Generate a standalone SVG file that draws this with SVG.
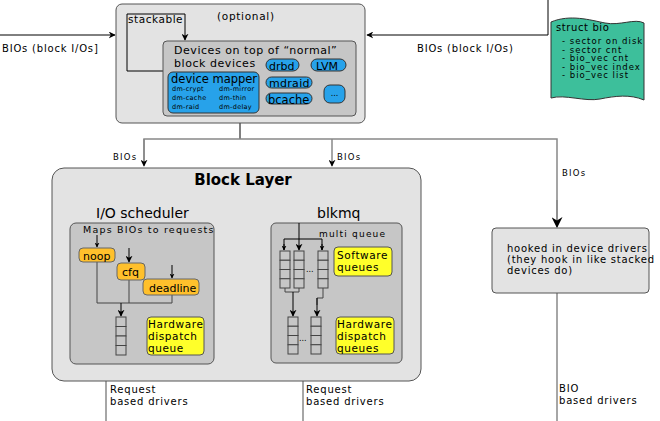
<svg xmlns="http://www.w3.org/2000/svg" width="660" height="421" viewBox="0 0 660 421">
<defs>
<style>
text{font-family:"DejaVu Sans","Liberation Sans",sans-serif;fill:#000}
.outer{fill:#e3e3e3;stroke:#555;stroke-width:1}
.inner{fill:#c6c6c6;stroke:#555;stroke-width:1}
.blue{fill:#27a2ea;stroke:#333;stroke-width:1}
.orange{fill:#ffc02c;stroke:#666;stroke-width:1}
.yellow{fill:#ffff2a;stroke:#555;stroke-width:1}
.q{fill:#c6c6c6;stroke:#444;stroke-width:1}
.ln{fill:none;stroke:#000;stroke-width:1}
.gl{fill:none;stroke:#888;stroke-width:1.5}
.dl{fill:none;stroke:#444;stroke-width:1}
.lbl{font-size:10px;letter-spacing:0.8px}
.bios{font-size:8.5px;letter-spacing:1.2px}
.yt{font-size:10.5px;letter-spacing:0.6px}
</style>
<marker id="ah" viewBox="0 0 10 10" refX="9" refY="5" markerWidth="7" markerHeight="7" orient="auto-start-reverse" markerUnits="userSpaceOnUse">
<path d="M0,0 L10,5 L0,10 L3,5 Z" fill="#000"/>
</marker>
<marker id="ahs" viewBox="0 0 10 10" refX="9" refY="5" markerWidth="5" markerHeight="5" orient="auto" markerUnits="userSpaceOnUse">
<path d="M0,0 L10,5 L0,10 L3,5 Z" fill="#000"/>
</marker>
<marker id="ahb" viewBox="0 0 10 10" refX="9" refY="5" markerWidth="11" markerHeight="11" orient="auto" markerUnits="userSpaceOnUse">
<path d="M0,0 L10,5 L0,10 L3,5 Z" fill="#000"/>
</marker>
</defs>

<g id="connectors">
<line class="ln" x1="0" y1="35" x2="115" y2="35" marker-end="url(#ah)"/>
<polyline class="ln" points="548,0 548,35 367,35" marker-end="url(#ah)"/>
<line class="ln" x1="240" y1="123" x2="240" y2="139"/>
<polyline class="gl" points="144,164 144,139 557,139 557,226"/>
<line class="gl" x1="144" y1="139" x2="144" y2="166" marker-end="url(#ah)"/>
<line class="gl" x1="332" y1="139" x2="332" y2="166" marker-end="url(#ah)"/>
<line class="gl" x1="557" y1="200" x2="557" y2="227" marker-end="url(#ahb)"/>
<line class="gl" x1="106" y1="364" x2="106" y2="421"/>
<line class="gl" x1="303" y1="363" x2="303" y2="421"/>
<line class="gl" x1="557" y1="293" x2="557" y2="421"/>
</g>

<g id="top-box">
<rect class="outer" x="116" y="4" width="249" height="119" rx="6"/>
<polyline class="ln" points="163,71 127,71 127,14 185,14 185,40" marker-end="url(#ah)"/>
<text x="128" y="23" font-size="10.5" letter-spacing="0.55">stackable</text>
<text x="217" y="20" font-size="10.5" letter-spacing="0.7">(optional)</text>
<g id="normal-devices">
<rect class="inner" x="163" y="41" width="193" height="75" rx="4"/>
<text x="174" y="54" font-size="11" letter-spacing="0.55">Devices on top of “normal”</text>
<text x="174" y="67" font-size="11" letter-spacing="0.55">block devices</text>
</g>
<g id="device-mapper">
<rect class="blue" x="168" y="72" width="91" height="41" rx="5"/>
<text x="171" y="83" font-size="11.5">device mapper</text>
<text x="172" y="91" font-size="6.5" letter-spacing="0.3">dm-crypt</text>
<text x="219" y="91" font-size="6.5" letter-spacing="0.3">dm-mirror</text>
<text x="172" y="100" font-size="6.5" letter-spacing="0.3">dm-cache</text>
<text x="219" y="100" font-size="6.5" letter-spacing="0.3">dm-thin</text>
<text x="172" y="109" font-size="6.5" letter-spacing="0.3">dm-raid</text>
<text x="219" y="109" font-size="6.5" letter-spacing="0.3">dm-delay</text>
</g>
<g id="drbd"><rect class="blue" x="266" y="59" width="33" height="12" rx="6"/><text x="269" y="69.5" font-size="11">drbd</text></g>
<g id="lvm"><rect class="blue" x="311" y="59" width="35" height="12" rx="6"/><text x="316" y="69.5" font-size="11">LVM</text></g>
<g id="mdraid"><rect class="blue" x="266" y="77" width="46" height="11" rx="5.5"/><text x="269" y="87" font-size="11" letter-spacing="0.3">mdraid</text></g>
<g id="bcache"><rect class="blue" x="266" y="93" width="46" height="11" rx="5.5"/><text x="268" y="103.5" font-size="11.5">bcache</text></g>
<g id="more"><rect class="blue" x="324" y="85" width="21" height="18" rx="6"/><text x="334.5" y="96" font-size="8" text-anchor="middle">...</text></g>
</g>

<g id="labels">
<text x="2" y="52" class="lbl">BIOs (block I/Os]</text>
<text x="417" y="52" class="lbl">BIOs (block I/Os)</text>
<text x="113" y="160" class="bios">BIOs</text>
<text x="337" y="160" class="bios">BIOs</text>
<text x="562" y="176" class="bios">BIOs</text>
<text x="110" y="393" class="lbl">Request</text>
<text x="110" y="405" class="lbl">based drivers</text>
<text x="306" y="393" class="lbl">Request</text>
<text x="306" y="405" class="lbl">based drivers</text>
<text x="559" y="392" class="lbl">BIO</text>
<text x="559" y="404" class="lbl">based drivers</text>
</g>

<g id="struct-bio">
<path d="M551,22 C570,14 590,20 605,23 C620,26 635,18 644,23 L644,100 C630,94 615,96 600,99 C585,102 565,94 551,98 Z" fill="#3dbf9b" stroke="#333" stroke-width="1"/>
<text x="556" y="31" font-size="10" letter-spacing="0.6">struct bio</text>
<text x="562" y="44" font-size="8.5" letter-spacing="1">- sector on disk</text>
<text x="562" y="52.5" font-size="8.5" letter-spacing="1">- sector cnt</text>
<text x="562" y="61" font-size="8.5" letter-spacing="1">- bio_vec cnt</text>
<text x="562" y="69.5" font-size="8.5" letter-spacing="1">- bio_vec index</text>
<text x="562" y="78" font-size="8.5" letter-spacing="1">- bio_vec list</text>
</g>

<g id="block-layer">
<rect class="outer" x="52" y="168" width="369" height="213" rx="12"/>
<text x="243" y="185" font-size="15" font-weight="bold" text-anchor="middle">Block Layer</text>
<text x="96" y="218" font-size="14">I/O scheduler</text>
<text x="317" y="218" font-size="14">blkmq</text>
</g>

<g id="io-scheduler">
<rect class="inner" x="70" y="223" width="144" height="141" rx="6"/>
<text x="83" y="233" font-size="9.5" letter-spacing="1.2">Maps BIOs to requests</text>
<line class="ln" x1="97" y1="235" x2="97" y2="247" marker-end="url(#ahs)"/>
<line class="ln" x1="129" y1="248" x2="129" y2="262" marker-end="url(#ah)"/>
<line class="ln" x1="172" y1="265" x2="172" y2="278" marker-end="url(#ahs)"/>
<polyline class="dl" points="97,262 97,303 172,303 172,295"/>
<line class="dl" x1="129" y1="280" x2="129" y2="303"/>
<line class="ln" x1="121" y1="303" x2="121" y2="316" marker-end="url(#ah)"/>
<g id="noop"><rect class="orange" x="79" y="248" width="36" height="14" rx="4"/><text x="83" y="259.5" font-size="11">noop</text></g>
<g id="cfq"><rect class="orange" x="117" y="263" width="28" height="17" rx="4"/><text x="122" y="275.5" font-size="11">cfq</text></g>
<g id="deadline"><rect class="orange" x="143" y="279" width="56" height="16" rx="4"/><text x="149" y="291.5" font-size="11">deadline</text></g>
<rect class="q" x="116" y="317" width="10" height="9.5"/>
<rect class="q" x="116" y="326.5" width="10" height="9.5"/>
<rect class="q" x="116" y="336" width="10" height="9.5"/>
<rect class="q" x="116" y="345.5" width="10" height="9.5"/>
<g id="hw-dispatch"><rect class="yellow" x="147" y="317" width="57" height="38" rx="4"/>
<text x="148" y="328" class="yt">Hardware</text>
<text x="148" y="340" class="yt">dispatch</text>
<text x="148" y="352" class="yt">queue</text></g>
</g>

<g id="blkmq">
<rect class="inner" x="271" y="223" width="131" height="140" rx="5"/>
<text x="319" y="237" font-size="9" letter-spacing="1.2">multi queue</text>
<line class="ln" x1="299" y1="223" x2="299" y2="250" marker-end="url(#ah)"/>
<polyline class="ln" points="284,250 284,239 322,239 322,250"/>
<line class="ln" x1="284" y1="244" x2="284" y2="250" marker-end="url(#ahs)"/>
<line class="ln" x1="322" y1="244" x2="322" y2="250" marker-end="url(#ahs)"/>
<g class="sw">
<rect class="q" x="280" y="251" width="10" height="9.25"/><rect class="q" x="280" y="260.25" width="10" height="9.25"/><rect class="q" x="280" y="269.5" width="10" height="9.25"/><rect class="q" x="280" y="278.75" width="10" height="9.25"/>
<rect class="q" x="294" y="251" width="10" height="9.25"/><rect class="q" x="294" y="260.25" width="10" height="9.25"/><rect class="q" x="294" y="269.5" width="10" height="9.25"/><rect class="q" x="294" y="278.75" width="10" height="9.25"/>
<rect class="q" x="318" y="251" width="10" height="9.25"/><rect class="q" x="318" y="260.25" width="10" height="9.25"/><rect class="q" x="318" y="269.5" width="10" height="9.25"/><rect class="q" x="318" y="278.75" width="10" height="9.25"/>
</g>
<text x="306" y="272" font-size="8">...</text>
<polyline class="dl" points="285,288 285,292 299,292 299,288"/>
<line class="ln" x1="293" y1="292" x2="293" y2="316" marker-end="url(#ah)"/>
<polyline class="dl" points="323,288 323,298 317,298 317,305"/>
<line class="ln" x1="317" y1="298" x2="317" y2="316" marker-end="url(#ah)"/>
<g class="hw">
<rect class="q" x="288" y="317" width="10" height="9.25"/><rect class="q" x="288" y="326.25" width="10" height="9.25"/><rect class="q" x="288" y="335.5" width="10" height="9.25"/><rect class="q" x="288" y="344.75" width="10" height="9.25"/>
<rect class="q" x="311" y="317" width="10" height="9.25"/><rect class="q" x="311" y="326.25" width="10" height="9.25"/><rect class="q" x="311" y="335.5" width="10" height="9.25"/><rect class="q" x="311" y="344.75" width="10" height="9.25"/>
</g>
<text x="299" y="341" font-size="8">...</text>
<g id="sw-queues"><rect class="yellow" x="334" y="247" width="58" height="29" rx="4"/>
<text x="337" y="259" class="yt">Software</text>
<text x="337" y="271" class="yt">queues</text></g>
<g id="hw-queues"><rect class="yellow" x="336" y="317" width="58" height="37" rx="4"/>
<text x="337" y="328" class="yt">Hardware</text>
<text x="337" y="340" class="yt">dispatch</text>
<text x="337" y="352" class="yt">queues</text></g>
</g>

<g id="hooked">
<rect class="outer" x="492" y="228" width="157" height="65" rx="4"/>
<text x="507" y="252" font-size="10" letter-spacing="0.75">hooked in device drivers</text>
<text x="507" y="263" font-size="10" letter-spacing="0.75">(they hook in like stacked</text>
<text x="507" y="274" font-size="10" letter-spacing="0.75">devices do)</text>
</g>
</svg>
